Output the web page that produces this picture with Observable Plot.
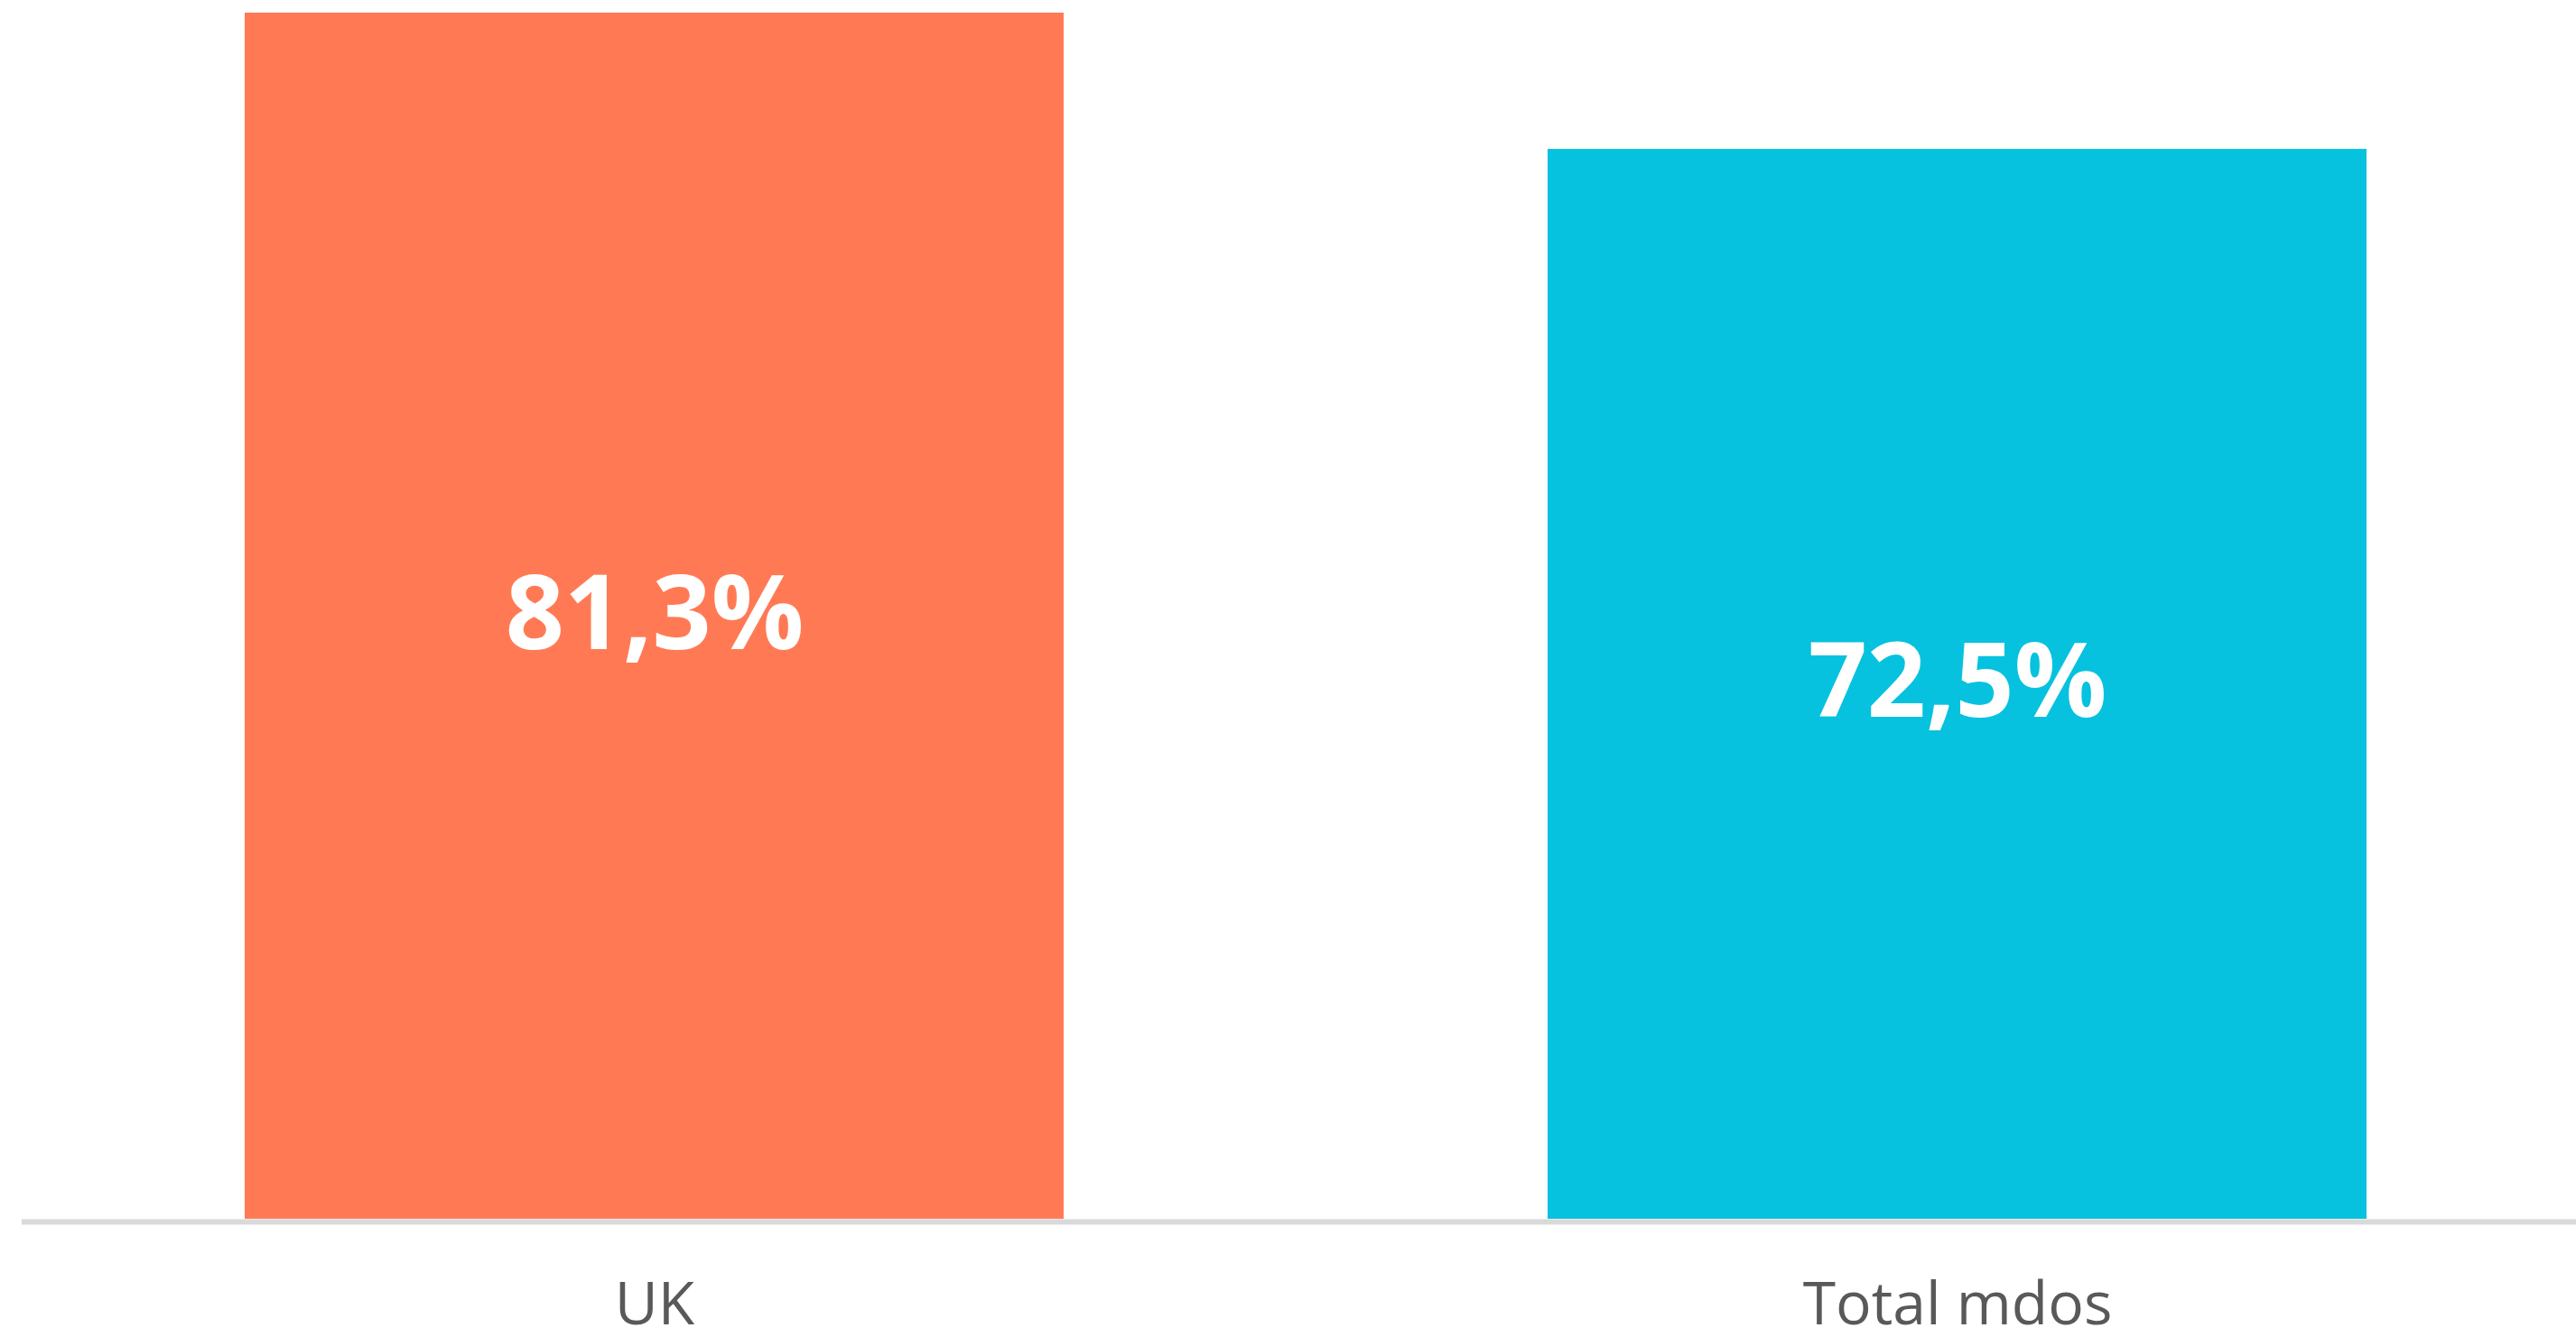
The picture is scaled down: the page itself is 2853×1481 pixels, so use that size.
<!DOCTYPE html>
<html>
<head>
<meta charset="utf-8">
<script src="https://cdn.jsdelivr.net/npm/d3@7"></script>
<script src="https://cdn.jsdelivr.net/npm/@observablehq/plot@0.6"></script>
<style>
  html, body { margin: 0; padding: 0; background: #ffffff; }
  #chart svg { display: block; }
</style>
</head>
<body>
<div id="chart"></div>
<script>
const categories = ["UK", "Total mdos"];
const values = [81.3, 72.5];
const labels = ["81,3%", "72,5%"];
const colors = ["#FF7A54", "#06C2DE"];

const data = categories.map((c, i) => ({ category: c, value: values[i], label: labels[i], color: colors[i] }));
const yMin = 3.4;

const chart = Plot.plot({
  width: 2853,
  height: 1481,
  marginTop: 14,
  marginBottom: 131,
  marginLeft: 24,
  marginRight: 0,
  style: { background: "#ffffff", fontFamily: "'Open Sans', sans-serif", overflow: "visible" },
  x: { domain: categories, range: [271, 2621], paddingInner: 0.3715, paddingOuter: 0, label: null },
  y: { domain: [yMin, 81.3], clamp: true, axis: null },
  marks: [
    Plot.barY(data, { x: "category", y: "value", fill: "color" }),
    Plot.ruleY([yMin], { stroke: "#d9d9d9", strokeWidth: 6, dy: 3 }),
    Plot.text(data, {
      x: "category",
      y: d => (d.value + yMin) / 2,
      text: "label",
      fill: "#ffffff",
      fontSize: 114,
      fontWeight: 700,
      fontFamily: "'Open Sans', sans-serif"
    }),
    Plot.axisX({ tickSize: 0, tickPadding: 70, fontSize: 66, fill: "#595959", label: null })
  ]
});
document.getElementById("chart").appendChild(chart);
</script>
</body>
</html>
